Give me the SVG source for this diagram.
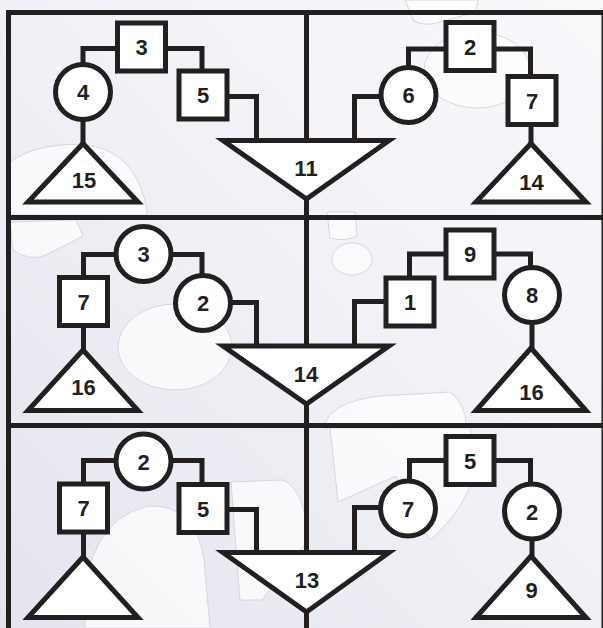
<svg xmlns="http://www.w3.org/2000/svg" width="603" height="628" viewBox="0 0 603 628">
<defs>
<linearGradient id="bg" x1="1" y1="0" x2="0" y2="1">
<stop offset="0" stop-color="#f9f9fc"/>
<stop offset="0.5" stop-color="#f0f0f6"/>
<stop offset="1" stop-color="#e4e4ee"/>
</linearGradient>
<style>
.blob{fill:#ffffff;fill-opacity:0.7;stroke:#d6d6de;stroke-width:1}
.frame{fill:none;stroke:#231f20;stroke-width:5}
.n{fill:#ffffff;stroke:#231f20;stroke-width:5;stroke-linejoin:miter;stroke-miterlimit:10}
.c{fill:none;stroke:#231f20;stroke-width:5;stroke-linejoin:miter}
.t{font-family:"Liberation Sans",Arial,sans-serif;font-weight:bold;font-size:22px;fill:#231f20;text-anchor:middle}
</style>
</defs>
<rect x="0" y="0" width="603" height="628" fill="url(#bg)"/>
<g id="background">
<path class="blob" d="M10,162 C30,146 75,140 100,148 C125,156 140,175 147,210 L147,215 L10,215 Z"/>
<path class="blob" d="M405,0 L414,21 Q425,27 440,22 L476,12 L478,0 Z"/>
<ellipse class="blob" cx="477" cy="70" rx="53" ry="38"/>
<path class="blob" d="M10,222 L13,250 Q30,262 46,255 L83,236 L76,220 Z"/>
<ellipse class="blob" cx="175" cy="347" rx="57" ry="43"/>
<path class="blob" d="M327,212 L330,238 Q345,242 357,236 L355,212 Z"/>
<ellipse class="blob" cx="352" cy="259" rx="20" ry="16"/>
<path class="blob" d="M324,428 Q328,402 380,396 L450,392 Q465,402 467,428 Z"/>
<path class="blob" d="M85,628 Q80,522 148,506 Q196,504 204,560 L210,628 Z"/>
<path class="blob" d="M231,482 L283,480 Q305,490 308,540 L262,600 L240,600 Z"/>
<path class="blob" d="M330,428 L338,502 L396,476 L430,540 Q470,505 477,462 L470,428 Z"/>
</g>
<g id="frame">
<path class="frame" d="M8.5,628 V12.5 H604 V628"/>
<path class="frame" d="M8.5,217.5 H603 M8.5,425.5 H603"/>
</g>
<g id="connectors">
<path class="c" d="M306.5,12.5 V628"/>
<path class="c" d="M83,64.5 V48.5 H118"/>
<path class="c" d="M165,48.5 H202 V71"/>
<path class="c" d="M227,96.5 H256.5 V140.5"/>
<path class="c" d="M83,119.5 V143.5"/>
<path class="c" d="M408.5,67.5 V49 H446"/>
<path class="c" d="M494,49 H530.5 V76.5"/>
<path class="c" d="M381,96.5 H354.5 V140.5"/>
<path class="c" d="M531,124.5 V143.5"/>
<path class="c" d="M83.5,277.5 V254.5 H116"/>
<path class="c" d="M171,254.5 H202 V275.5"/>
<path class="c" d="M230.5,302.5 H256.5 V346"/>
<path class="c" d="M83.5,325.5 V350"/>
<path class="c" d="M409.5,278 V254 H446"/>
<path class="c" d="M494,254 H530.5 V267.5"/>
<path class="c" d="M386,301.5 H354.5 V346"/>
<path class="c" d="M532,322.5 V348"/>
<path class="c" d="M83.5,484 V460.5 H116"/>
<path class="c" d="M171,460.5 H202 V484.5"/>
<path class="c" d="M227,509.5 H256.5 V552.5"/>
<path class="c" d="M83.5,532 V557"/>
<path class="c" d="M409.5,481 V460.5 H446"/>
<path class="c" d="M494,460.5 H530.5 V484"/>
<path class="c" d="M380.5,507.5 H354.5 V552.5"/>
<path class="c" d="M532,539 V556"/>
</g>
<g id="p1-sq3"><rect class="n" x="117.5" y="23" width="48" height="48"/><text class="t" x="141.5" y="55">3</text></g>
<g id="p1-c4"><circle class="n" cx="83" cy="92" r="27.5"/><text class="t" x="83" y="100">4</text></g>
<g id="p1-sq5"><rect class="n" x="179" y="71" width="48" height="48"/><text class="t" x="203" y="103">5</text></g>
<g id="p1-tri15"><polygon class="n" points="83,143.5 138,202 28,202"/><text class="t" x="84" y="188">15</text></g>
<g id="p1-tri11"><polygon class="n" points="223,140.5 389,140.5 306.5,199"/><text class="t" x="306" y="176">11</text></g>
<g id="p1-c6"><circle class="n" cx="408.5" cy="95" r="27.5"/><text class="t" x="408.5" y="103">6</text></g>
<g id="p1-sq2"><rect class="n" x="446" y="22.5" width="48" height="48"/><text class="t" x="470" y="54.5">2</text></g>
<g id="p1-sq7"><rect class="n" x="508" y="76.5" width="48" height="48"/><text class="t" x="532" y="108.5">7</text></g>
<g id="p1-tri14"><polygon class="n" points="531,143.5 586,202 476,202"/><text class="t" x="531.5" y="190">14</text></g>
<g id="p2-c3"><circle class="n" cx="143.5" cy="254" r="27.5"/><text class="t" x="143.5" y="262">3</text></g>
<g id="p2-c2"><circle class="n" cx="203" cy="303" r="27.5"/><text class="t" x="203" y="311">2</text></g>
<g id="p2-sq7"><rect class="n" x="59.5" y="277.5" width="48" height="48"/><text class="t" x="83.5" y="309.5">7</text></g>
<g id="p2-tri16"><polygon class="n" points="83,350 138,410.5 28,410.5"/><text class="t" x="83.5" y="395">16</text></g>
<g id="p2-tri14"><polygon class="n" points="223,346 389,346 306.5,404"/><text class="t" x="306" y="382">14</text></g>
<g id="p2-sq9"><rect class="n" x="446" y="230" width="48" height="48"/><text class="t" x="470" y="262">9</text></g>
<g id="p2-sq1"><rect class="n" x="386" y="278" width="48" height="48"/><text class="t" x="410" y="310">1</text></g>
<g id="p2-c8"><circle class="n" cx="532" cy="295" r="27.5"/><text class="t" x="532" y="303">8</text></g>
<g id="p2-tri16b"><polygon class="n" points="531,348 586,410.5 476,410.5"/><text class="t" x="531.5" y="400">16</text></g>
<g id="p3-c2"><circle class="n" cx="143.5" cy="461.5" r="27.5"/><text class="t" x="143.5" y="469.5">2</text></g>
<g id="p3-sq7"><rect class="n" x="59.5" y="484" width="48" height="48"/><text class="t" x="83.5" y="516">7</text></g>
<g id="p3-sq5"><rect class="n" x="179" y="484.5" width="48" height="48"/><text class="t" x="203" y="516.5">5</text></g>
<g id="p3-tri"><polygon class="n" points="83,557 138,617.5 28,617.5"/></g>
<g id="p3-tri13"><polygon class="n" points="223,552.5 389,552.5 306.5,612"/><text class="t" x="307" y="588">13</text></g>
<g id="p3-sq5b"><rect class="n" x="446" y="436.5" width="48" height="48"/><text class="t" x="470" y="468.5">5</text></g>
<g id="p3-c7"><circle class="n" cx="408" cy="508.5" r="27.5"/><text class="t" x="408" y="516.5">7</text></g>
<g id="p3-c2b"><circle class="n" cx="532" cy="511.5" r="27.5"/><text class="t" x="532" y="519.5">2</text></g>
<g id="p3-tri9"><polygon class="n" points="531,556 586,617.5 476,617.5"/><text class="t" x="531.5" y="598">9</text></g>
</svg>
